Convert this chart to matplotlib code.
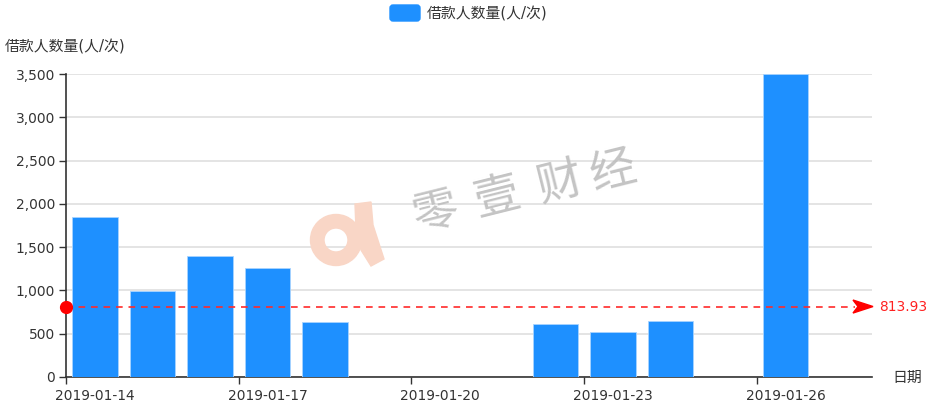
import numpy as np
import matplotlib
matplotlib.use("Agg")
import matplotlib.pyplot as plt
from matplotlib.patches import Wedge, Polygon, FancyBboxPatch
from matplotlib.transforms import IdentityTransform

plt.rcParams['font.family'] = ['DejaVu Sans', 'Noto Sans CJK SC']

dates = ['2019-01-14', '2019-01-15', '2019-01-16', '2019-01-17', '2019-01-18',
         '2019-01-19', '2019-01-20', '2019-01-21', '2019-01-22', '2019-01-23',
         '2019-01-24', '2019-01-25', '2019-01-26', '2019-01-27']
borrowers = [1845, 990, 1403, 1254, 634, 0, 0, 0, 608, 520, 642, 0, 3499, 0]
series_name = '借款人数量(人/次)'
y_title = '借款人数量(人/次)'
x_title = '日期'
y_ticks = [0, 500, 1000, 1500, 2000, 2500, 3000, 3500]

W, H = 940, 403
FS = 9.9
FS_CJK = 10.7
TXT = '#333333'
fig = plt.figure(figsize=(W / 100, H / 100), dpi=100)
ax = fig.add_axes([66 / W, 26 / H, 806 / W, 303 / H])

x = np.arange(len(dates))
vals = np.array(borrowers, dtype=float)
bars = ax.bar(x, vals, width=0.79, color='#1E90FF', edgecolor='#A8D4FF',
              linewidth=0.6, zorder=3)
for b, v in zip(bars, vals):
    if v == 0:
        b.set_visible(False)

ax.set_xlim(-0.5, len(dates) - 0.5)
ax.set_ylim(0, 3500)
ax.set_yticks(y_ticks)
ax.set_yticklabels([f'{v:,}' for v in y_ticks])
ax.yaxis.grid(True, color='#DCDCDC', linewidth=1.1, zorder=0)
ax.set_axisbelow(True)

# x labels at every 3rd category, ticks at category boundaries
label_idx = list(range(0, len(dates), 3))
ax.set_xticks([i - 0.5 for i in label_idx])
ax.set_xticklabels([])
ax.tick_params(axis='x', length=5, color=TXT, width=1)
for i in label_idx:
    ax.annotate(dates[i], xy=(i, 0), xycoords=('data', 'axes fraction'),
                xytext=(0, -13.5), textcoords='offset points',
                ha='center', va='center', fontsize=FS, color=TXT, annotation_clip=False)

ax.tick_params(axis='y', length=5, color=TXT, width=1,
               labelsize=FS, labelcolor=TXT, pad=3)
for s in ['top', 'right']:
    ax.spines[s].set_visible(False)
for s in ['left', 'bottom']:
    ax.spines[s].set_color(TXT)
    ax.spines[s].set_linewidth(1.2)

# mean mark line
mean_val = vals.mean()
xa0, xa1 = -0.5, len(dates) - 0.5
ax.plot([xa0, xa1 - 0.3], [mean_val, mean_val], color='#FF2A2A',
        linestyle=(0, (4, 3.5)), linewidth=1.2, zorder=5, clip_on=False)
ax.plot([xa0], [mean_val], 'o', color='#FF0000', markersize=8.5, zorder=6, clip_on=False)
tx, ty = ax.transData.transform((xa1, mean_val))
arrow = Polygon([(tx + 1, ty), (tx - 19, ty + 6.5), (tx - 14, ty), (tx - 19, ty - 6.5)],
                closed=True, color='#FF0000', zorder=6)
arrow.set_transform(IdentityTransform())
fig.patches.append(arrow)
ax.annotate(f'{mean_val:.2f}', xy=(xa1, mean_val), xytext=(5, 0),
            textcoords='offset points', color='#FF2020', fontsize=FS,
            va='center', ha='left', annotation_clip=False)

# axis titles
fig.text(5 / W, 1 - 47 / H, y_title, fontsize=FS_CJK, color=TXT, va='center', ha='left')
fig.text(892 / W, 1 - 377 / H, x_title, fontsize=FS_CJK, color=TXT, va='center', ha='left')

# legend (drawn manually)
leg_patch = FancyBboxPatch((390, H - 21), 30, 16, boxstyle='round,pad=0,rounding_size=3',
                           color='#1E90FF', zorder=5)
leg_patch.set_transform(IdentityTransform())
fig.patches.append(leg_patch)
fig.text(427 / W, 1 - 14 / H, series_name, fontsize=FS_CJK, color=TXT, va='center', ha='left')

# watermark
wm_color = '#F9D6C6'
ring = Wedge((336, H - 240), 25.5, 0, 360, width=13.5, color=wm_color, zorder=1)
ring.set_transform(IdentityTransform())
fig.patches.append(ring)
tail = Polygon([(355, H - 204), (371, H - 202), (373, H - 225), (384, H - 259),
                (371, H - 266), (361, H - 250), (356, H - 230)],
               closed=True, color=wm_color, zorder=1)
tail.set_transform(IdentityTransform())
fig.patches.append(tail)

chars = ['零', '壹', '财', '经']
centers = [(435, 213), (497, 198), (559, 183), (613, 171)]
for c, (cx, cy) in zip(chars, centers):
    fig.text(cx / W, 1 - cy / H, c, fontsize=33, color='#BEBEBE', alpha=0.9,
             family='Noto Sans CJK SC', ha='center', va='center', rotation=14,
             fontweight='medium', zorder=1)

fig.savefig('out.png', dpi=100)
